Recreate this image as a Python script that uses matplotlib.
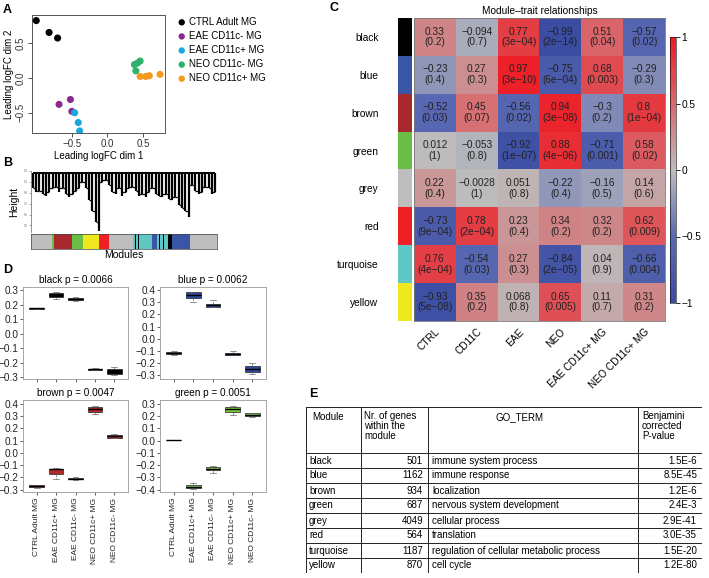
import numpy as np
import matplotlib
matplotlib.use("Agg")
import matplotlib.pyplot as plt
from matplotlib.colors import LinearSegmentedColormap, to_rgb

plt.rcParams['font.family'] = ['Liberation Sans', 'DejaVu Sans']

# ---------------- DATA ----------------
# Panel A (MDS plot)
mds_groups = ["CTRL Adult MG", "EAE CD11c- MG", "EAE CD11c+ MG", "NEO CD11c- MG", "NEO CD11c+ MG"]
mds_colors = ["#000000", "#8B2A8E", "#1AA7E0", "#2DB16C", "#F39A1E"]
mds_x = [[-1.00, -0.82, -0.70], [-0.68, -0.52, -0.50], [-0.46, -0.41, -0.39],
         [0.46, 0.38, 0.40, 0.42], [0.46, 0.54, 0.59, 0.74]]
mds_y = [[0.82, 0.65, 0.57], [-0.38, -0.31, -0.48], [-0.50, -0.64, -0.76],
         [0.24, 0.19, 0.10, 0.21], [0.02, 0.02, 0.03, 0.05]]

# Panel B (dendrogram leaf heights, module colour bar)
dendro_leaf_heights = [0.84, 0.81, 0.82, 0.79, 0.77, 0.81, 0.84, 0.85, 0.81, 0.84,
                       0.79, 0.76, 0.79, 0.82, 0.84, 0.90, 0.84, 0.73, 0.63, 0.53,
                       0.45, 0.90, 0.92, 0.87, 0.81, 0.79, 0.84, 0.77, 0.81, 0.84,
                       0.85, 0.82, 0.77, 0.79, 0.76, 0.81, 0.84, 0.79, 0.77, 0.76,
                       0.79, 0.74, 0.73, 0.76, 0.69, 0.66, 0.63, 0.58, 0.87, 0.82,
                       0.79, 0.81, 0.85, 0.84, 0.79, 0.81]
module_bar_colors = ["grey", "green", "brown", "green", "yellow", "red", "grey",
                     "turquoise", "black", "turquoise", "black", "turquoise", "blue",
                     "turquoise", "black", "turquoise", "black", "turquoise", "black",
                     "blue", "grey"]
module_bar_sizes = [63, 5, 55, 33, 49, 31, 72, 5, 3, 7, 3, 37, 15, 8, 3, 9, 3, 10, 14, 53, 82]

module_palette = {"black": "#000000", "blue": "#3B55A6", "brown": "#A8282D",
                  "green": "#6BBE45", "grey": "#BEBEBE", "red": "#EE2024",
                  "turquoise": "#5FC8C5", "yellow": "#F0E81E"}

# Panel C (module-trait heatmap)
traits = ["CTRL", "CD11C", "EAE", "NEO", "EAE CD11c+ MG", "NEO CD11c+ MG"]
modules = ["black", "blue", "brown", "green", "grey", "red", "turquoise", "yellow"]
cor_black = [0.33, -0.094, 0.77, -0.99, 0.51, -0.57]
cor_blue = [-0.23, 0.27, 0.97, -0.75, 0.68, -0.29]
cor_brown = [-0.52, 0.45, -0.56, 0.94, -0.3, 0.8]
cor_green = [0.012, -0.053, -0.92, 0.88, -0.71, 0.58]
cor_grey = [0.22, -0.0028, 0.051, -0.22, -0.16, 0.14]
cor_red = [-0.73, 0.78, 0.23, 0.34, 0.32, 0.62]
cor_turquoise = [0.76, -0.54, 0.27, -0.84, 0.04, -0.66]
cor_yellow = [-0.93, 0.35, 0.068, 0.65, 0.11, 0.31]
p_black = ["0.2", "0.7", "3e-04", "2e-14", "0.04", "0.02"]
p_blue = ["0.4", "0.3", "3e-10", "6e-04", "0.003", "0.3"]
p_brown = ["0.03", "0.07", "0.02", "3e-08", "0.2", "1e-04"]
p_green = ["1", "0.8", "1e-07", "4e-06", "0.001", "0.02"]
p_grey = ["0.4", "1", "0.8", "0.4", "0.5", "0.6"]
p_red = ["9e-04", "2e-04", "0.4", "0.2", "0.2", "0.009"]
p_turquoise = ["4e-04", "0.03", "0.3", "2e-05", "0.9", "0.004"]
p_yellow = ["5e-08", "0.2", "0.8", "0.005", "0.7", "0.2"]

# Panel D (eigengene boxplots): med, q1, q3, whisker low, whisker high
box_groups = ["CTRL Adult MG", "EAE CD11c+ MG", "EAE CD11c- MG", "NEO CD11c+ MG", "NEO CD11c- MG"]
box_modules = ["black", "blue", "brown", "green"]
box_pvalues = ["0.0066", "0.0062", "0.0047", "0.0051"]
black_med = [0.175, 0.265, 0.240, -0.245, -0.262]
black_q1 = [0.173, 0.252, 0.232, -0.250, -0.276]
black_q3 = [0.177, 0.280, 0.247, -0.240, -0.246]
black_lo = [0.172, 0.240, 0.225, -0.252, -0.282]
black_hi = [0.178, 0.290, 0.255, -0.238, -0.226]
blue_med = [-0.120, 0.365, 0.275, -0.125, -0.250]
blue_q1 = [-0.126, 0.335, 0.262, -0.133, -0.275]
blue_q3 = [-0.114, 0.385, 0.290, -0.117, -0.225]
blue_lo = [-0.132, 0.300, 0.258, -0.140, -0.290]
blue_hi = [-0.106, 0.390, 0.320, -0.106, -0.200]
brown_med = [-0.270, -0.135, -0.210, 0.355, 0.135]
brown_q1 = [-0.276, -0.175, -0.215, 0.330, 0.125]
brown_q3 = [-0.262, -0.130, -0.205, 0.370, 0.145]
brown_lo = [-0.285, -0.215, -0.222, 0.315, 0.120]
brown_hi = [-0.260, -0.125, -0.195, 0.378, 0.150]
green_med = [0.005, -0.375, -0.230, 0.255, 0.210]
green_q1 = [0.003, -0.385, -0.240, 0.235, 0.198]
green_q3 = [0.007, -0.362, -0.218, 0.270, 0.222]
green_lo = [0.002, -0.390, -0.262, 0.210, 0.190]
green_hi = [0.008, -0.345, -0.210, 0.280, 0.228]
box_fill = ["#000000", "#2F4A9C", "#B02A2A", "#77C83A"]

# Panel E (table)
table_header = ["Module", "Nr. of genes\nwithin the\nmodule", "GO_TERM", "Benjamini\ncorrected\nP-value"]
table_modules = ["black", "blue", "brown", "green", "grey", "red", "turquoise", "yellow"]
table_ngenes = [501, 1162, 934, 687, 4049, 564, 1187, 870]
table_goterms = ["immune system process", "immune response", "localization",
                 "nervous system development", "cellular process", "translation",
                 "regulation of cellular metabolic process", "cell cycle"]
table_pvalues = ["1.5E-6", "8.5E-45", "1.2E-6", "2.4E-3", "2.9E-41", "3.0E-35", "1.5E-20", "1.2E-80"]

# ---------------- LAYOUT ----------------
W, H = 709, 578
fig = plt.figure(figsize=(W / 100, H / 100), dpi=100)


def add_ax(x0, y0, x1, y1):
    return fig.add_axes([x0 / W, 1 - y1 / H, (x1 - x0) / W, (y1 - y0) / H])


def ftext(x, y, s, **kw):
    fig.text(x / W, 1 - y / H, s, **kw)


def mstr(v):
    return v.replace("-", "\u2212")


# Panel labels
for lab, (x, y) in zip("ABCDE", [(3, 10), (3, 163), (330, 8), (3, 270), (309, 394)]):
    ftext(x, y, lab, fontsize=9, fontweight='bold', ha='left', va='center')

# ---- Panel A ----
axA = add_ax(32, 15, 165, 133)
for g, c, xs, ys in zip(mds_groups, mds_colors, mds_x, mds_y):
    axA.scatter(xs, ys, s=26, color=c, edgecolors='none', label=g, zorder=3)
axA.set_xlim(-1.06, 0.81)
axA.set_ylim(-0.79, 0.90)
axA.set_xticks([-0.5, 0, 0.5])
axA.set_xticklabels(["\u22120.5", "0.0", "0.5"])
axA.set_yticks([-0.5, 0, 0.5])
axA.set_yticklabels(["\u22120.5", "0.0", "0.5"], rotation=90, va='center')
axA.tick_params(labelsize=7, length=3, width=0.6, pad=1.5, colors='#333333')
axA.set_xlabel("Leading logFC dim 1", fontsize=7, labelpad=1)
axA.set_ylabel("Leading logFC dim 2", fontsize=7, labelpad=1)
for s in axA.spines.values():
    s.set_color('#555555')
    s.set_linewidth(0.7)
axA.legend(loc='upper left', bbox_to_anchor=(172 / W, 1 - 13 / H), bbox_transform=fig.transFigure,
           frameon=False, fontsize=7, handletextpad=0.1, labelspacing=0.42, borderaxespad=0,
           handlelength=1.2, markerscale=0.9)

# ---- Panel B ----
axB = add_ax(31, 171, 217, 232)
leaf_h = np.array(dendro_leaf_heights)
xs = np.arange(len(leaf_h))
top = 0.985
axB.vlines(xs, leaf_h, top, color='black', lw=1.6)
# merge links between neighbouring leaves at the higher of the two leaf heights
link_h = np.maximum(leaf_h[:-1], leaf_h[1:])
axB.hlines(link_h, xs[:-1], xs[1:], color='black', lw=0.9)
axB.hlines(top, xs[0], xs[-1], color='black', lw=1.4)
axB.set_xlim(-0.5, len(leaf_h) - 0.5)
axB.set_ylim(0.44, 1.0)
for k in ['top', 'right', 'bottom']:
    axB.spines[k].set_visible(False)
axB.spines['left'].set_color('#666666')
axB.spines['left'].set_linewidth(0.5)
axB.set_xticks([])
axB.set_yticks([0.5, 0.6, 0.7, 0.8, 0.9, 1.0])
axB.tick_params(axis='y', length=1.5, width=0.4, labelsize=2, pad=0.5, colors='#666666')
axB.set_ylabel("Height", fontsize=7.5, labelpad=4)

axM = add_ax(31, 234, 217, 249)
lefts = np.concatenate([[0], np.cumsum(module_bar_sizes)[:-1]])
axM.barh(0, module_bar_sizes, left=lefts, height=1,
         color=[module_palette[c] for c in module_bar_colors], edgecolor='none')
axM.set_xlim(0, sum(module_bar_sizes))
axM.set_ylim(-0.5, 0.5)
axM.set_xticks([])
axM.set_yticks([])
for s in axM.spines.values():
    s.set_linewidth(0.5)
    s.set_color('#444444')
axM.set_xlabel("Modules", fontsize=7.5, labelpad=1)

# ---- Panel C ----
cor = np.array([cor_black, cor_blue, cor_brown, cor_green, cor_grey, cor_red, cor_turquoise, cor_yellow])
pv = [p_black, p_blue, p_brown, p_green, p_grey, p_red, p_turquoise, p_yellow]
cmap = LinearSegmentedColormap.from_list(
    "bgr", [(0.0, "#3A4DA2"), (0.25, "#5A69B2"), (0.5, "#BDBDBD"), (0.75, "#D9686C"), (1.0, "#EE1C25")])
axC = add_ax(414, 18, 665, 321)
im = axC.imshow(cor, cmap=cmap, vmin=-1, vmax=1, aspect='auto', interpolation='nearest')
for i in range(cor.shape[0]):
    for j in range(cor.shape[1]):
        axC.text(j, i, mstr(f"{cor[i, j]:g}") + "\n(" + mstr(pv[i][j]) + ")",
                 ha='center', va='center', fontsize=7.3, color='#222222', linespacing=1.1)
axC.set_xticks(range(len(traits)))
axC.set_xticklabels(traits, rotation=45, ha='right', va='top', rotation_mode='anchor', fontsize=7.3)
axC.set_yticks([])
axC.tick_params(axis='x', length=0, pad=4)
for s in axC.spines.values():
    s.set_color('#777777')
    s.set_linewidth(0.6)
axC.set_title("Module\u2013trait relationships", fontsize=7.3, pad=3)

axS = add_ax(398, 18, 412, 321)
strip = np.array([[to_rgb(module_palette[m])] for m in modules])
axS.imshow(strip, aspect='auto', interpolation='nearest')
axS.set_xticks([])
axS.set_yticks(range(len(modules)))
axS.set_yticklabels(modules, fontsize=7.3)
axS.tick_params(axis='y', length=0, pad=14)
for s in axS.spines.values():
    s.set_visible(False)

cax = add_ax(670, 37, 676, 303)
cb = fig.colorbar(im, cax=cax, ticks=[-1, -0.5, 0, 0.5, 1])
cb.ax.set_yticklabels(["\u22121", "\u22120.5", "0", "0.5", "1"])
cb.ax.tick_params(labelsize=7.3, length=3, width=0.6, pad=1)
cb.outline.set_linewidth(0.4)

# ---- Panel D ----
box_data = [
    (black_med, black_q1, black_q3, black_lo, black_hi),
    (blue_med, blue_q1, blue_q3, blue_lo, blue_hi),
    (brown_med, brown_q1, brown_q3, brown_lo, brown_hi),
    (green_med, green_q1, green_q3, green_lo, green_hi),
]
box_px = [(23, 287, 128, 379), (160, 287, 266, 379), (23, 400, 128, 492), (160, 400, 266, 492)]
box_ylims = [(-0.312, 0.322), (-0.335, 0.428), (-0.318, 0.43), (-0.418, 0.33)]
box_yticks = [np.round(np.arange(-0.3, 0.31, 0.1), 1), np.round(np.arange(-0.3, 0.41, 0.1), 1),
              np.round(np.arange(-0.3, 0.41, 0.1), 1), np.round(np.arange(-0.4, 0.31, 0.1), 1)]
for k in range(4):
    ax = add_ax(*box_px[k])
    med, q1, q3, lo, hi = box_data[k]
    stats = [dict(med=med[g], q1=q1[g], q3=q3[g], whislo=lo[g], whishi=hi[g], fliers=[])
             for g in range(len(box_groups))]
    ax.bxp(stats, positions=range(1, 6), widths=0.75, capwidths=0.3, patch_artist=True, showfliers=False,
           boxprops=dict(facecolor=box_fill[k], edgecolor='#222222', linewidth=0.5),
           medianprops=dict(color='black', linewidth=1.0),
           whiskerprops=dict(color='#666666', linewidth=0.5, linestyle='--'),
           capprops=dict(color='#666666', linewidth=0.5))
    ax.set_xlim(0.3, 5.7)
    ax.set_ylim(*box_ylims[k])
    ax.set_yticks(box_yticks[k])
    ax.set_yticklabels([mstr(f"{v:.1f}") if abs(v) > 1e-9 else "0.0" for v in box_yticks[k]])
    ax.set_xticks(range(1, 6))
    if k >= 2:
        ax.set_xticklabels(box_groups, rotation=90, fontsize=6)
    else:
        ax.set_xticklabels([])
    ax.tick_params(axis='y', labelsize=7.2, length=2, width=0.5, pad=1, colors='#222222')
    ax.tick_params(axis='x', length=2, width=0.5, pad=2, colors='#222222')
    for s in ax.spines.values():
        s.set_color('#999999')
        s.set_linewidth(0.6)
    ax.set_title(f"{box_modules[k]} p = {box_pvalues[k]}", fontsize=7.2, pad=3)

# ---- Panel E ----
axE = add_ax(306, 407, 702, 573)
axE.set_xlim(306, 702)
axE.set_ylim(573, 407)
axE.axis('off')
col_edges = [306, 361, 428, 638, 702]
header_bottom = 453
row_h = (573 - header_bottom) / len(table_modules)
line_kw = dict(color='#222222', lw=0.7)
axE.plot([306, 702], [407, 407], **line_kw)
axE.plot([306, 702], [573, 573], **line_kw)
for r in range(len(table_modules)):
    yline = header_bottom + r * row_h
    axE.plot([306, 702], [yline, yline], **line_kw)
for xe in col_edges:
    axE.plot([xe, xe], [407, 573], **line_kw)
fs = 7
axE.text(312, 417, table_header[0], fontsize=fs, ha='left', va='center')
axE.text(364, 411, table_header[1], fontsize=fs, ha='left', va='top', linespacing=1.0)
axE.text(519, 417, table_header[2], fontsize=fs, ha='center', va='center')
axE.text(642, 411, table_header[3], fontsize=fs, ha='left', va='top', linespacing=1.0)
for r in range(len(table_modules)):
    yc = header_bottom + (r + 0.5) * row_h
    axE.text(309, yc, table_modules[r], fontsize=fs, ha='left', va='center')
    axE.text(423, yc, str(table_ngenes[r]), fontsize=fs, ha='right', va='center')
    axE.text(432, yc, table_goterms[r], fontsize=fs, ha='left', va='center')
    axE.text(697, yc, table_pvalues[r], fontsize=fs, ha='right', va='center')

fig.savefig("out.png", dpi=100)
